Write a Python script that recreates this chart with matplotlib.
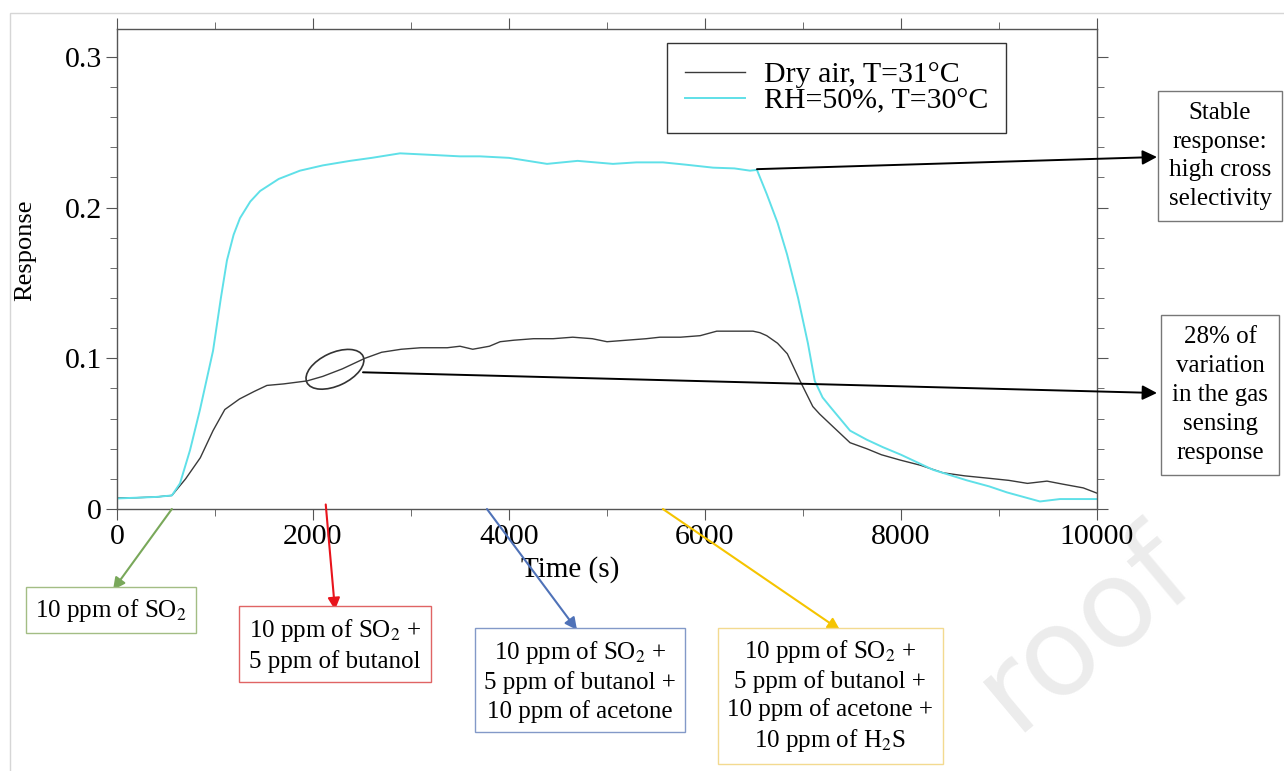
import numpy as np
import matplotlib
matplotlib.use("Agg")
import matplotlib.pyplot as plt
from matplotlib.patches import Ellipse, Rectangle
from matplotlib.transforms import ScaledTranslation

plt.rcParams['font.family'] = 'serif'
plt.rcParams['font.serif'] = ['Liberation Serif', 'DejaVu Serif']
plt.rcParams['mathtext.fontset'] = 'stix'

# dry air, T=31 C
t_dry = [0, 200, 400, 560, 700, 850, 980, 1100, 1250, 1400, 1530, 1700, 1940, 2100, 2300,
         2530, 2700, 2900, 3100, 3370, 3500, 3630, 3800, 3910, 4050, 4250, 4450, 4650, 4850,
         5000, 5200, 5400, 5540, 5750, 5950, 6120, 6300, 6490, 6560, 6630, 6740, 6840, 6970,
         7100, 7170, 7300, 7480, 7650, 7800, 7990, 8200, 8430, 8650, 8880, 9100, 9290, 9490,
         9650, 9860, 10000]
r_dry = [0.0073, 0.0075, 0.008, 0.009, 0.02, 0.034, 0.052, 0.066, 0.073, 0.078, 0.082, 0.083,
         0.085, 0.088, 0.093, 0.100, 0.104, 0.106, 0.107, 0.107, 0.108, 0.106, 0.108, 0.111,
         0.112, 0.113, 0.113, 0.114, 0.113, 0.111, 0.112, 0.113, 0.114, 0.114, 0.115, 0.118,
         0.118, 0.118, 0.117, 0.115, 0.110, 0.103, 0.085, 0.068, 0.063, 0.055, 0.044, 0.040,
         0.036, 0.0325, 0.029, 0.024, 0.022, 0.0205, 0.019, 0.017, 0.0185, 0.0165, 0.014, 0.0105]

# RH=50%, T=30 C
t_rh = [0, 200, 400, 560, 643, 745, 847, 980, 1060, 1122, 1190, 1255, 1360, 1460, 1650, 1867,
        2100, 2378, 2600, 2888, 3200, 3500, 3704, 4000, 4388, 4700, 5061, 5300, 5571, 5800,
        6082, 6300, 6459, 6530, 6630, 6740, 6837, 6950, 7050, 7120, 7200, 7275, 7480, 7650,
        7816, 8000, 8327, 8673, 8900, 9082, 9250, 9418, 9622, 9800, 10000]
r_rh = [0.007, 0.0075, 0.008, 0.009, 0.017, 0.039, 0.066, 0.105, 0.14, 0.165, 0.182, 0.193,
        0.204, 0.211, 0.219, 0.2245, 0.228, 0.231, 0.233, 0.236, 0.235, 0.234, 0.234, 0.233,
        0.229, 0.231, 0.229, 0.230, 0.230, 0.2285, 0.2265, 0.226, 0.2245, 0.225, 0.209, 0.190,
        0.169, 0.140, 0.110, 0.085, 0.074, 0.068, 0.052, 0.046, 0.041, 0.036, 0.026, 0.019,
        0.015, 0.011, 0.008, 0.005, 0.0066, 0.0066, 0.0066]

series_labels = ['Dry air, T=31°C', 'RH=50%, T=30°C']
xticks = [0, 2000, 4000, 6000, 8000, 10000]
yticks = [0, 0.1, 0.2, 0.3]
ytick_labels = ['0', '0.1', '0.2', '0.3']

gas_labels = ['10 ppm of SO$_2$',
              '10 ppm of SO$_2$ +\n5 ppm of butanol',
              '10 ppm of SO$_2$ +\n5 ppm of butanol +\n10 ppm of acetone',
              '10 ppm of SO$_2$ +\n5 ppm of butanol +\n10 ppm of acetone +\n10 ppm of H$_2$S']
gas_times = [560, 2130, 3775, 5570]
note_stable = 'Stable\nresponse:\nhigh cross\nselectivity'
note_var = '28% of\nvariation\nin the gas\nsensing\nresponse'

W, H = 1284, 771
fig = plt.figure(figsize=(W / 100, H / 100), dpi=100)


def fpx(x, y):
    # pixel position (from top-left) -> figure fraction
    return (x / W, 1 - y / H)


ax = fig.add_axes([117 / W, 1 - 509 / H, 980 / W, 480 / H])
ax.plot(t_dry, r_dry, color='#3a3a3a', lw=1.0, label=series_labels[0])
ax.plot(t_rh, r_rh, color='#5fe0e8', lw=1.4, label=series_labels[1])

ax.set_xlim(0, 10000)
ax.set_ylim(0, 0.3185)
ax.set_xticks(xticks)
ax.set_xticks(np.arange(1000, 10000, 2000), minor=True)
ax.set_yticks(yticks)
ax.set_yticklabels(ytick_labels)
ax.set_yticks(np.arange(0.02, 0.32, 0.02), minor=True)
ax.tick_params(which='both', direction='out', top=True, right=True, labelsize=21.5,
               color='#555555', pad=3)
ax.tick_params(which='major', length=8)
ax.tick_params(which='minor', length=5)
for s in ax.spines.values():
    s.set_color('#555555')
    s.set_linewidth(1.0)

ax.set_xlabel('Time (s)', fontsize=21)
ax.xaxis.set_label_coords(0.462, -0.127)
ax.xaxis.label.set_va('center')
ax.set_ylabel('Response', fontsize=19)
ax.yaxis.set_label_coords(-0.094, 0.54)
ax.yaxis.label.set_va('center')

leg = ax.legend(loc='upper left', bbox_to_anchor=(0.561, 0.971), borderaxespad=0,
                fontsize=21.5, frameon=True, fancybox=False, framealpha=1,
                labelspacing=-0.02, borderpad=0.62, handlelength=2.0, handletextpad=0.62)
leg.get_frame().set_edgecolor('#333333')
leg.get_frame().set_linewidth(1.0)

# ellipse marking the dry-air curve
el = Ellipse((0, 0), 0.62, 0.33, angle=25, fill=False, ec='#333333', lw=1.2,
             transform=fig.dpi_scale_trans + ScaledTranslation(2224, 0.0927, ax.transData),
             clip_on=False)
ax.add_patch(el)

black_arrow = dict(arrowstyle='-|>', color='black', lw=1.4, mutation_scale=22,
                   shrinkA=0, shrinkB=0)
ax.annotate('', xy=fpx(1157, 157), xycoords='figure fraction',
            xytext=(6530, 0.2255), textcoords='data', arrowprops=black_arrow)
ax.annotate('', xy=fpx(1157, 393), xycoords='figure fraction',
            xytext=(2510, 0.0907), textcoords='data', arrowprops=black_arrow)

note_kw = dict(ha='center', va='center', fontsize=18, linespacing=1.4)
fig.text(*fpx(1220, 156), note_stable,
         bbox=dict(boxstyle='square,pad=0.42', fc='white', ec='#777777', lw=1), **note_kw)
fig.text(*fpx(1220, 395), note_var,
         bbox=dict(boxstyle='square,pad=0.45', fc='white', ec='#777777', lw=1), **note_kw)

# gas steps below the axis
arrow_cols = ['#79a85a', '#e8141c', '#4f72b8', '#f5c400']
box_cols = ['#a3bd84', '#e06464', '#8399c8', '#f3da90']
heads = [(113, 590), (335, 610), (577, 630), (840, 630)]
centers = [(111, 610), (335, 645), (580, 681), (830, 696)]
starts_y = [0, 0.003, 0, 0]
for i in range(4):
    ax.annotate('', xy=fpx(*heads[i]), xycoords='figure fraction',
                xytext=(gas_times[i], starts_y[i]), textcoords='data',
                arrowprops=dict(arrowstyle='-|>', color=arrow_cols[i], lw=1.5,
                                mutation_scale=18, shrinkA=0, shrinkB=0),
                annotation_clip=False)
    fig.text(*fpx(*centers[i]), gas_labels[i],
             bbox=dict(boxstyle='square,pad=0.38', fc='white', ec=box_cols[i], lw=1),
             **dict(note_kw, linespacing=1.3))

# outer frame and watermark
fig.patches.append(Rectangle((10 / W, -0.01), 1.0, 1 - 13 / H + 0.01, transform=fig.transFigure,
                             fill=False, ec='#d6d6d6', lw=1))
fig.text(*fpx(1085, 630), 'roof', fontsize=88, family='DejaVu Sans', color='#ececec',
         rotation=40, ha='center', va='center', rotation_mode='anchor', zorder=-1)

fig.savefig('out.png', dpi=100)
